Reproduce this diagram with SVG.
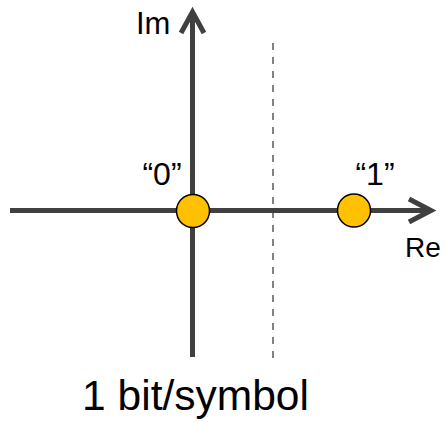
<svg xmlns="http://www.w3.org/2000/svg" width="447" height="422" viewBox="0 0 447 422">
<style>
.ax{stroke:#404040;stroke-width:5;fill:none}
.ah{stroke:#404040;stroke-width:5;fill:none;stroke-linejoin:miter;stroke-linecap:butt}
.pt{fill:#FFC000;stroke:#000;stroke-width:1.5}
text{font-family:"Liberation Sans",Arial,sans-serif;fill:#000}
</style>
<rect width="447" height="422" fill="#fff"/>
<g id="connectors">
<line x1="273" y1="43" x2="273" y2="358" stroke="#404040" stroke-width="1.3" stroke-dasharray="7,7"/>
<line class="ax" x1="10" y1="210.5" x2="430" y2="210.5"/>
<polyline class="ah" points="409,199 431,210.5 409,222"/>
<line class="ax" x1="192.5" y1="357" x2="192.5" y2="13"/>
<polyline class="ah" points="181,33 192.5,12 204,33"/>
</g>
<g id="node-0">
<circle class="pt" cx="193" cy="211" r="16.5"/>
<text x="162" y="185" font-size="32" text-anchor="middle">“0”</text>
</g>
<g id="node-1">
<circle class="pt" cx="354" cy="210.5" r="16.5"/>
<text x="375" y="185" font-size="32" text-anchor="middle">“1”</text>
</g>
<g id="label-im"><text x="136" y="34" font-size="31">Im</text></g>
<g id="label-re"><text x="405" y="257" font-size="28">Re</text></g>
<g id="caption"><text x="195.5" y="410" font-size="42.5" text-anchor="middle">1 bit/symbol</text></g>
</svg>
